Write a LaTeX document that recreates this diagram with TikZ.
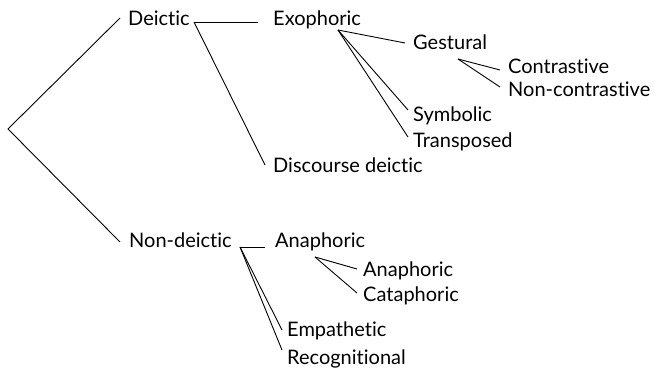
\documentclass[tikz,border=0pt]{standalone}
\usepackage{fontspec}
\setmainfont{Lato}[Ligatures={NoCommon}]
\begin{document}
\begin{tikzpicture}[x=1pt,y=-1pt,
  lbl/.style={anchor=base west,inner sep=0pt,font=\fontsize{20}{22}\selectfont},
  edge/.style={draw=black,line width=0.9pt}]
\useasboundingbox (0,0) rectangle (657,371);
% nodes
\node[lbl] (deic) at (128,26) {Deictic};
\node[lbl] (exo) at (273,26) {Exophoric};
\node[lbl] (disc) at (273,173) {Discourse deictic};
\node[lbl] (gest) at (413,50) {Gestural};
\node[lbl] (symb) at (413,122) {Symbolic};
\node[lbl] (trans) at (413,148) {Transposed};
\node[lbl] (contr) at (508,74) {Contrastive};
\node[lbl] (ncontr) at (508,97) {Non-contrastive};
\node[lbl] (ndeic) at (129,248) {Non-deictic};
\node[lbl] (ana) at (275,248) {Anaphoric};
\node[lbl] (ana2) at (363,277) {Anaphoric};
\node[lbl] (cata) at (363,302) {Cataphoric};
\node[lbl] (emp) at (287,337) {Empathetic};
\node[lbl] (recog) at (287,365) {Recognitional};
% junctions
\coordinate (root) at (8,129);
\coordinate (jD) at (194,22);
\coordinate (jE) at (338,30);
\coordinate (jG) at (458,59);
\coordinate (jN) at (240,247);
\coordinate (jA) at (315,257);
% edges
\draw[edge] ([shift={(-8pt,8pt)}]deic.base west) -- (root) -- ([shift={(-9pt,6pt)}]ndeic.base west);
\draw[edge] (jD) -- ([shift={(-15pt,4pt)}]exo.base west);
\draw[edge] (jD) -- ([shift={(-8pt,8pt)}]disc.base west);
\draw[edge] (jE) -- ([shift={(-8pt,7pt)}]gest.base west);
\draw[edge] (jE) -- ([shift={(-5pt,12pt)}]symb.base west);
\draw[edge] (jE) -- ([shift={(-5pt,11pt)}]trans.base west);
\draw[edge] (jG) -- ([shift={(-8pt,4pt)}]contr.base west);
\draw[edge] (jG) -- ([shift={(-8pt,10pt)}]ncontr.base west);
\draw[edge] (jN) -- ([shift={(-10pt,1pt)}]ana.base west);
\draw[edge] (jN) -- ([shift={(-5pt,7pt)}]emp.base west);
\draw[edge] (jN) -- ([shift={(-5pt,15pt)}]recog.base west);
\draw[edge] (jA) -- ([shift={(-6pt,8pt)}]ana2.base west);
\draw[edge] (jA) -- ([shift={(-6pt,9pt)}]cata.base west);
\end{tikzpicture}
\end{document}
